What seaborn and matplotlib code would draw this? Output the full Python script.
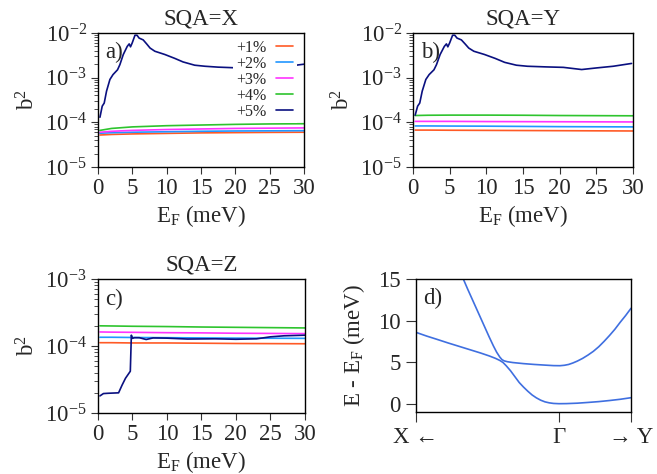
import numpy as np
import pandas as pd
import matplotlib
matplotlib.use("Agg")
import matplotlib.pyplot as plt
from matplotlib.ticker import LogLocator, NullFormatter
import seaborn as sns

# ---------------- data ----------------
strains = ["+1%", "+2%", "+3%", "+4%", "+5%"]
colors = ["#ff5a26", "#2196ff", "#ff33ff", "#2ec42e", "#0a1080"]

# flat series x grid
ef_flat = [0.3, 2, 5, 10, 15, 20, 25, 30]

# Panel a (SQA=X)
a_p1 = [5.2e-5, 5.35e-5, 5.5e-5, 5.65e-5, 5.8e-5, 5.88e-5, 5.95e-5, 6.0e-5]
a_p2 = [5.7e-5, 5.85e-5, 6.0e-5, 6.15e-5, 6.3e-5, 6.4e-5, 6.45e-5, 6.5e-5]
a_p3 = [6.0e-5, 6.3e-5, 6.6e-5, 6.9e-5, 7.1e-5, 7.3e-5, 7.4e-5, 7.5e-5]
a_p4 = [6.6e-5, 7.3e-5, 7.9e-5, 8.4e-5, 8.7e-5, 9.0e-5, 9.2e-5, 9.3e-5]
a_p5_x = [0.3, 0.63, 0.92, 1.26, 1.75, 2.2, 2.86, 3.2, 3.7, 4.27, 4.56, 4.75,
          5.0, 5.4, 5.7, 6.0, 6.6, 7.1, 7.6, 8.3, 9.75, 11.2, 12.4, 14.1,
          15.6, 17.5, 19.7, 21.6, 24.0, 27.0, 30.0]
a_p5 = [1.3e-4, 2.3e-4, 2.7e-4, 5.0e-4, 9.1e-4, 1.17e-3, 1.5e-3, 1.95e-3,
        3.3e-3, 5.0e-3, 5.7e-3, 4.9e-3, 6.0e-3, 8.9e-3, 8.9e-3, 7.7e-3,
        7.0e-3, 5.7e-3, 4.6e-3, 3.9e-3, 3.3e-3, 2.7e-3, 2.25e-3, 1.9e-3,
        1.8e-3, 1.72e-3, 1.67e-3, 1.63e-3, 1.6e-3, 1.75e-3, 2.0e-3]

# Panel b (SQA=Y)
b_p1 = [6.7e-5, 6.7e-5, 6.65e-5, 6.6e-5, 6.55e-5, 6.5e-5, 6.45e-5, 6.4e-5]
b_p2 = [8.3e-5, 8.3e-5, 8.25e-5, 8.2e-5, 8.1e-5, 8.0e-5, 7.95e-5, 7.9e-5]
b_p3 = [1.05e-4, 1.05e-4, 1.05e-4, 1.04e-4, 1.035e-4, 1.03e-4, 1.025e-4, 1.02e-4]
b_p4 = [1.42e-4, 1.44e-4, 1.45e-4, 1.45e-4, 1.44e-4, 1.42e-4, 1.41e-4, 1.4e-4]
b_p5_x = [0.3, 0.63, 0.92, 1.26, 1.75, 2.2, 2.86, 3.2, 3.7, 4.27, 4.56, 4.75,
          5.0, 5.4, 5.7, 6.0, 6.6, 7.1, 7.6, 8.3, 9.75, 11.2, 12.5, 14.1,
          15.6, 18.2, 20.5, 23.0, 25.0, 27.3, 29.8]
b_p5 = [1.45e-4, 2.3e-4, 2.7e-4, 5.0e-4, 9.1e-4, 1.17e-3, 1.5e-3, 1.95e-3,
        3.3e-3, 5.0e-3, 5.7e-3, 4.9e-3, 6.0e-3, 8.9e-3, 8.9e-3, 7.7e-3,
        7.0e-3, 5.7e-3, 4.6e-3, 3.9e-3, 3.3e-3, 2.7e-3, 2.2e-3, 1.9e-3,
        1.8e-3, 1.74e-3, 1.7e-3, 1.52e-3, 1.65e-3, 1.8e-3, 2.08e-3]

# Panel c (SQA=Z)
c_p1 = [1.12e-4, 1.12e-4, 1.11e-4, 1.11e-4, 1.1e-4, 1.09e-4, 1.085e-4, 1.08e-4]
c_p2 = [1.35e-4, 1.35e-4, 1.34e-4, 1.33e-4, 1.32e-4, 1.31e-4, 1.305e-4, 1.3e-4]
c_p3 = [1.62e-4, 1.61e-4, 1.6e-4, 1.58e-4, 1.57e-4, 1.55e-4, 1.54e-4, 1.53e-4]
c_p4 = [2.0e-4, 1.99e-4, 1.97e-4, 1.95e-4, 1.92e-4, 1.9e-4, 1.88e-4, 1.86e-4]
c_p5_x = [0.3, 0.8, 1.5, 3.0, 3.5, 4.0, 4.7, 4.85, 5.0, 5.3, 6.0, 7.0, 8.0,
          10.0, 13.0, 17.0, 20.0, 23.0, 25.0, 27.0, 30.0]
c_p5 = [1.8e-5, 1.95e-5, 1.97e-5, 2.0e-5, 2.6e-5, 3.3e-5, 4.2e-5, 1.45e-4,
        1.3e-4, 1.33e-4, 1.33e-4, 1.25e-4, 1.32e-4, 1.31e-4, 1.27e-4,
        1.28e-4, 1.26e-4, 1.28e-4, 1.37e-4, 1.42e-4, 1.45e-4]

# Panel d (bands)
k_low = [0.0, 0.05, 0.1, 0.15, 0.2, 0.25, 0.3, 0.34, 0.37, 0.39, 0.405,
         0.42, 0.44, 0.46, 0.48, 0.5, 0.52, 0.54, 0.56, 0.58, 0.6, 0.62,
         0.64, 0.665, 0.7, 0.75, 0.8, 0.85, 0.9, 0.95, 1.0]
e_low = [8.58, 8.13, 7.72, 7.3, 6.9, 6.5, 6.1, 5.75, 5.45, 5.2, 4.95,
         4.55, 3.95, 3.25, 2.55, 2.0, 1.5, 1.05, 0.7, 0.42, 0.22, 0.1,
         0.03, 0.0, 0.01, 0.06, 0.15, 0.25, 0.38, 0.53, 0.72]
k_up = [0.22, 0.24, 0.26, 0.28, 0.30, 0.32, 0.34, 0.36, 0.375, 0.39, 0.40,
        0.41, 0.425, 0.45, 0.5, 0.55, 0.6, 0.64, 0.67, 0.69, 0.71, 0.73,
        0.75, 0.775, 0.8, 0.825, 0.85, 0.875, 0.9, 0.925, 0.95, 0.975, 1.0]
e_up = [15.0, 13.8, 12.65, 11.5, 10.35, 9.2, 8.05, 6.95, 6.2, 5.6, 5.3,
        5.15, 5.05, 4.95, 4.82, 4.72, 4.64, 4.58, 4.57, 4.62, 4.72, 4.9,
        5.12, 5.45, 5.85, 6.3, 6.85, 7.5, 8.2, 8.95, 9.8, 10.6, 11.47]
k_ticks = [0.0, 0.665, 1.0]
k_labels = ["X \u2190", "\u0393", "\u2192 Y"]

# ---------------- style ----------------
sns.set_style("ticks")
plt.rcParams["font.family"] = ["Liberation Serif", "DejaVu Serif"]
plt.rcParams["mathtext.fontset"] = "custom"
plt.rcParams["mathtext.rm"] = "Liberation Serif"
plt.rcParams["mathtext.it"] = "Liberation Serif:italic"
plt.rcParams["mathtext.bf"] = "Liberation Serif:bold"
plt.rcParams["axes.linewidth"] = 1.0
plt.rcParams["axes.edgecolor"] = "black"

FS = 16.5

def long_df(xs_list, ys_list):
    rows = []
    for s, xs, ys in zip(strains, xs_list, ys_list):
        for x, y in zip(xs, ys):
            rows.append((s, x, y))
    return pd.DataFrame(rows, columns=["strain", "E", "b2"])

fig = plt.figure(figsize=(6.57, 4.74), dpi=100)
ax_a = fig.add_axes([0.149, 0.6477, 0.3135, 0.2827])
ax_b = fig.add_axes([0.6286, 0.6477, 0.3349, 0.2827])
ax_c = fig.add_axes([0.149, 0.1287, 0.3150, 0.2827])
ax_d = fig.add_axes([0.6332, 0.1308, 0.3272, 0.2806])

pal = dict(zip(strains, colors))

panels = [
    (ax_a, long_df([ef_flat] * 4 + [a_p5_x], [a_p1, a_p2, a_p3, a_p4, a_p5]),
     "SQA=X", "a)", (1e-5, 1e-2)),
    (ax_b, long_df([ef_flat] * 4 + [b_p5_x], [b_p1, b_p2, b_p3, b_p4, b_p5]),
     "SQA=Y", "b)", (1e-5, 1e-2)),
    (ax_c, long_df([ef_flat] * 4 + [c_p5_x], [c_p1, c_p2, c_p3, c_p4, c_p5]),
     "SQA=Z", "c)", (1e-5, 1e-3)),
]

for ax, df, title, lab, ylim in panels:
    sns.lineplot(data=df, x="E", y="b2", hue="strain", palette=pal,
                 hue_order=strains, estimator=None, sort=False, lw=1.2,
                 ax=ax, legend=False)
    ax.set_yscale("log")
    ax.set_xlim(0, 30)
    ax.set_ylim(*ylim)
    ax.yaxis.set_major_locator(LogLocator(base=10, numticks=12))
    ax.yaxis.set_minor_locator(LogLocator(base=10, subs=np.arange(2, 10),
                                          numticks=12))
    ax.yaxis.set_minor_formatter(NullFormatter())
    ax.set_xticks([0, 5, 10, 15, 20, 25, 30])
    ax.set_title(title, fontsize=FS, pad=6)
    ax.set_xlabel("E$_\\mathrm{F}$ (meV)", fontsize=FS, labelpad=3)
    ax.set_ylabel("b$^2$", fontsize=FS, labelpad=4)
    ax.tick_params(axis="both", which="major", labelsize=FS, direction="out",
                   length=5, width=0.8, color="#333333", pad=3)
    ax.tick_params(axis="y", which="minor", direction="out", length=3,
                   width=0.6, color="#333333")
    ax.tick_params(axis="x", which="minor", length=0)
    ax.text(0.035, 0.93, lab, transform=ax.transAxes, fontsize=FS,
            va="top", ha="left")
    for sp in ax.spines.values():
        sp.set_visible(True)
        sp.set_linewidth(1.0)

handles = [plt.Line2D([], [], color=c, lw=1.2) for c in colors]
leg = ax_a.legend(handles, strains, loc="upper right", markerfirst=False,
                  fontsize=11.5, frameon=True, facecolor="white",
                  edgecolor="none", framealpha=1.0, fancybox=False,
                  handlelength=1.1, handletextpad=0.6, labelspacing=0.0,
                  borderpad=0.2, borderaxespad=0.0,
                  bbox_to_anchor=(0.965, 0.975))

# panel d
band_df = pd.DataFrame({
    "k": k_low + k_up,
    "E": e_low + e_up,
    "band": ["lower"] * len(k_low) + ["upper"] * len(k_up),
})
sns.lineplot(data=band_df, x="k", y="E", units="band", estimator=None,
             sort=False, color="#3f6fe0", lw=1.2, ax=ax_d)
ax_d.set_xlim(0, 1)
ax_d.set_ylim(-1, 15)
ax_d.set_yticks([0, 5, 10, 15])
ax_d.set_xticks(k_ticks)
ax_d.set_xticklabels(k_labels)
ax_d.set_xlabel("")
ax_d.set_ylabel("E - E$_\\mathrm{F}$ (meV)", fontsize=FS, labelpad=8)
ax_d.tick_params(axis="both", labelsize=FS, direction="out", length=7,
                 width=0.8, color="#333333", pad=4)
ax_d.text(0.035, 0.93, "d)", transform=ax_d.transAxes, fontsize=FS,
          va="top", ha="left")
for sp in ax_d.spines.values():
    sp.set_visible(True)
    sp.set_linewidth(1.0)

fig.savefig("out.png", dpi=100)
